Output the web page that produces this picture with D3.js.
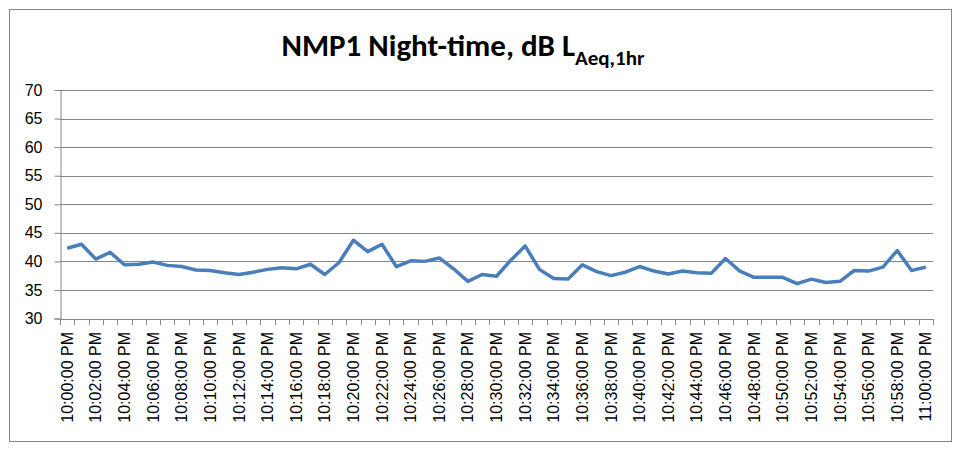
<!DOCTYPE html>
<html>
<head>
<meta charset="utf-8">
<script src="https://cdn.jsdelivr.net/npm/d3@7"></script>
<style>
  html, body { margin: 0; padding: 0; background: #fff; }
  svg { display: block; font-family: Carlito, Lato, "Open Sans", sans-serif; }
</style>
</head>
<body>
<svg id="chart" width="959" height="452"></svg>
<script>
// One-minute samples, 10:00 PM to 11:00 PM
const times = [
  "10:00:00 PM","10:01:00 PM","10:02:00 PM","10:03:00 PM","10:04:00 PM","10:05:00 PM",
  "10:06:00 PM","10:07:00 PM","10:08:00 PM","10:09:00 PM","10:10:00 PM","10:11:00 PM",
  "10:12:00 PM","10:13:00 PM","10:14:00 PM","10:15:00 PM","10:16:00 PM","10:17:00 PM",
  "10:18:00 PM","10:19:00 PM","10:20:00 PM","10:21:00 PM","10:22:00 PM","10:23:00 PM",
  "10:24:00 PM","10:25:00 PM","10:26:00 PM","10:27:00 PM","10:28:00 PM","10:29:00 PM",
  "10:30:00 PM","10:31:00 PM","10:32:00 PM","10:33:00 PM","10:34:00 PM","10:35:00 PM",
  "10:36:00 PM","10:37:00 PM","10:38:00 PM","10:39:00 PM","10:40:00 PM","10:41:00 PM",
  "10:42:00 PM","10:43:00 PM","10:44:00 PM","10:45:00 PM","10:46:00 PM","10:47:00 PM",
  "10:48:00 PM","10:49:00 PM","10:50:00 PM","10:51:00 PM","10:52:00 PM","10:53:00 PM",
  "10:54:00 PM","10:55:00 PM","10:56:00 PM","10:57:00 PM","10:58:00 PM","10:59:00 PM",
  "11:00:00 PM"
];

// LAeq per minute, dB
const laeq = [
  42.3, 43.0, 40.4, 41.6, 39.4, 39.5, 39.9, 39.3, 39.1, 38.5,
  38.4, 38.0, 37.7, 38.1, 38.6, 38.9, 38.7, 39.5, 37.7, 39.8,
  43.7, 41.7, 43.0, 39.1, 40.1, 40.0, 40.6, 38.7, 36.5, 37.7,
  37.4, 40.2, 42.7, 38.6, 37.0, 36.9, 39.4, 38.2, 37.5, 38.1,
  39.1, 38.3, 37.8, 38.3, 38.0, 37.9, 40.5, 38.3, 37.2, 37.2,
  37.2, 36.1, 36.9, 36.3, 36.5, 38.4, 38.3, 39.0, 41.9, 38.4,
  39.0
];

// Every other minute is labelled on the axis
const xTickLabels = [
  "10:00:00 PM","10:02:00 PM","10:04:00 PM","10:06:00 PM","10:08:00 PM","10:10:00 PM",
  "10:12:00 PM","10:14:00 PM","10:16:00 PM","10:18:00 PM","10:20:00 PM","10:22:00 PM",
  "10:24:00 PM","10:26:00 PM","10:28:00 PM","10:30:00 PM","10:32:00 PM","10:34:00 PM",
  "10:36:00 PM","10:38:00 PM","10:40:00 PM","10:42:00 PM","10:44:00 PM","10:46:00 PM",
  "10:48:00 PM","10:50:00 PM","10:52:00 PM","10:54:00 PM","10:56:00 PM","10:58:00 PM",
  "11:00:00 PM"
];

const yTicks = [30, 35, 40, 45, 50, 55, 60, 65, 70];

const svg = d3.select("#chart");
const plot = { left: 60, right: 933, top: 90, bottom: 318.5 };
const axisColor = "#868686";

// chart frame
svg.append("rect")
  .attr("x", 9.5).attr("y", 9.5).attr("width", 942).attr("height", 432)
  .attr("fill", "#fff").attr("stroke", axisColor).attr("stroke-width", 1);

const x = d3.scaleBand().domain(times).range([plot.left, plot.right]).padding(0);
const y = d3.scaleLinear().domain([30, 70]).range([plot.bottom, plot.top]);

// horizontal gridlines
svg.append("g")
  .selectAll("line")
  .data(yTicks.filter(v => v > 30))
  .join("line")
  .attr("x1", plot.left).attr("x2", plot.right)
  .attr("y1", d => Math.round(y(d)) + 0.5).attr("y2", d => Math.round(y(d)) + 0.5)
  .attr("stroke", axisColor).attr("stroke-width", 1);

// value axis
const yAxis = svg.append("g")
  .attr("transform", `translate(${plot.left + 0.5},0)`)
  .call(d3.axisLeft(y).tickValues(yTicks).tickSize(6).tickPadding(12).tickFormat(d3.format("d")));
yAxis.select(".domain").attr("stroke", axisColor);
yAxis.selectAll(".tick line").attr("stroke", axisColor);
yAxis.selectAll(".tick text").attr("font-size", 16).attr("fill", "#000");

// category axis: tick marks between categories
const boundaries = times.map(t => x(t)).concat([plot.right]);
const xg = svg.append("g");
xg.append("line")
  .attr("x1", plot.left).attr("x2", plot.right)
  .attr("y1", Math.round(plot.bottom) + 0.5).attr("y2", Math.round(plot.bottom) + 0.5)
  .attr("stroke", axisColor);
xg.selectAll("line.tk")
  .data(boundaries)
  .join("line")
  .attr("class", "tk")
  .attr("x1", d => Math.round(d) + 0.5).attr("x2", d => Math.round(d) + 0.5)
  .attr("y1", Math.round(plot.bottom)).attr("y2", Math.round(plot.bottom) + 6)
  .attr("stroke", axisColor);

// category labels, rotated
const xAxis = svg.append("g")
  .attr("transform", `translate(0,${Math.round(plot.bottom)})`)
  .call(d3.axisBottom(x).tickValues(xTickLabels).tickSize(0).tickPadding(0));
xAxis.select(".domain").remove();
xAxis.selectAll(".tick text")
  .attr("font-size", 16)
  .attr("fill", "#000")
  .attr("transform", "rotate(-90)")
  .attr("text-anchor", "end")
  .attr("dy", "0.35em")
  .attr("x", -13)
  .attr("y", 0);

// series line
const line = d3.line()
  .x((d, i) => x(times[i]) + x.bandwidth() / 2)
  .y(d => y(d));
svg.append("path")
  .datum(laeq)
  .attr("d", line)
  .attr("fill", "none")
  .attr("stroke", "#4a7ebb")
  .attr("stroke-width", 3.5)
  .attr("stroke-linejoin", "round");

// title with subscript
const title = svg.append("text")
  .attr("x", 463).attr("y", 56)
  .attr("text-anchor", "middle")
  .attr("font-size", 31)
  .attr("font-weight", "bold")
  .attr("fill", "#000");
title.append("tspan").text("NMP1 Night-time, dB L");
title.append("tspan").attr("font-size", 21).attr("dy", 9).text("Aeq,1hr");
</script>
</body>
</html>
